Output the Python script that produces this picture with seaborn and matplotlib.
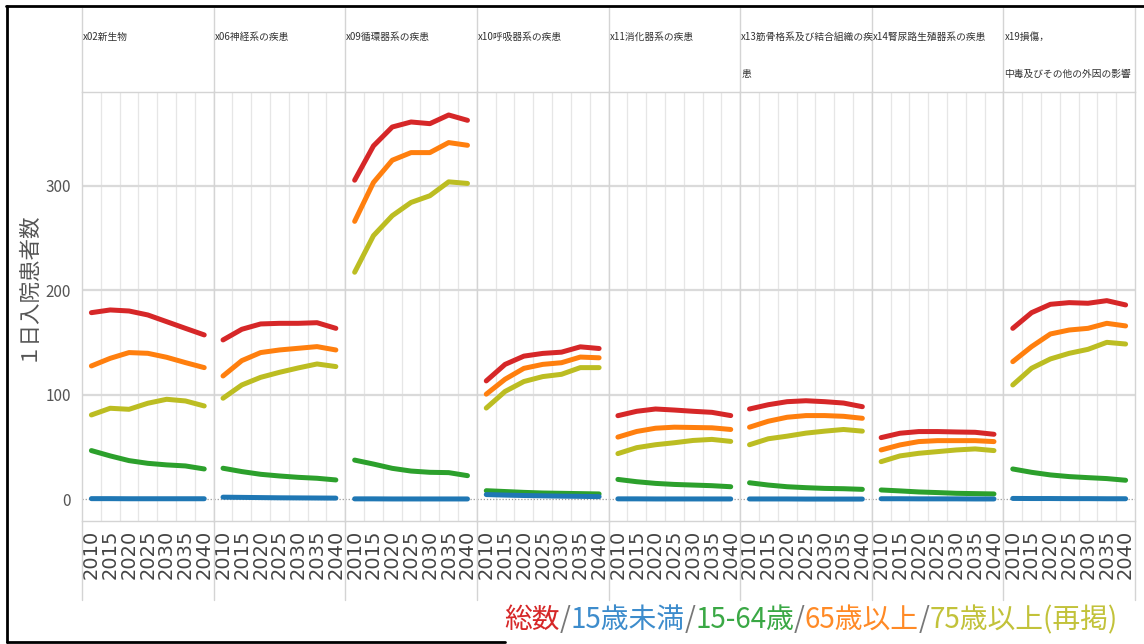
import matplotlib
matplotlib.use("Agg")
import matplotlib.pyplot as plt
from matplotlib.lines import Line2D
import numpy as np
import pandas as pd
import seaborn as sns

# data
years = [2010, 2015, 2020, 2025, 2030, 2035, 2040]
diseases = ["x02", "x06", "x09", "x10", "x11", "x13", "x14", "x19"]
titles = ["x02新生物", "x06神経系の疾患", "x09循環器系の疾患", "x10呼吸器系の疾患",
          "x11消化器系の疾患", "x13筋骨格系及び結合組織の疾\n患", "x14腎尿路生殖器系の疾患",
          "x19損傷，\n中毒及びその他の外因の影響"]
groups = ["総数", "15歳未満", "15-64歳", "65歳以上", "75歳以上(再掲)"]

total = {
    "x02": [178.6, 181.2, 180.2, 176.4, 170.0, 163.6, 157.3],
    "x06": [152.5, 162.7, 167.8, 168.4, 168.4, 169.0, 163.6],
    "x09": [305.4, 338.2, 356.3, 361.1, 359.5, 367.8, 362.7],
    "x10": [113.3, 129.1, 137.0, 139.6, 140.8, 145.9, 144.3],
    "x11": [80.0, 84.2, 86.4, 85.4, 84.2, 83.2, 80.1],
    "x13": [86.4, 90.5, 93.4, 94.3, 93.4, 92.1, 88.6],
    "x14": [59.0, 63.2, 64.8, 64.8, 64.4, 64.1, 62.2],
    "x19": [163.6, 178.6, 186.6, 188.2, 187.6, 190.1, 186.0],
}
under15 = {
    "x02": [0.6, 0.6, 0.5, 0.5, 0.5, 0.5, 0.5],
    "x06": [2.0, 1.8, 1.6, 1.4, 1.3, 1.2, 1.1],
    "x09": [0.4, 0.4, 0.3, 0.3, 0.3, 0.3, 0.3],
    "x10": [4.5, 4.0, 3.6, 3.3, 3.0, 2.8, 2.5],
    "x11": [0.4, 0.4, 0.3, 0.3, 0.3, 0.3, 0.3],
    "x13": [0.3, 0.3, 0.3, 0.2, 0.2, 0.2, 0.2],
    "x14": [0.5, 0.5, 0.4, 0.4, 0.4, 0.3, 0.3],
    "x19": [0.8, 0.7, 0.7, 0.6, 0.6, 0.5, 0.5],
}
age15_64 = {
    "x02": [46.6, 41.5, 37.0, 34.4, 32.9, 31.9, 29.0],
    "x06": [29.7, 26.5, 23.9, 22.3, 21.0, 20.1, 18.5],
    "x09": [37.5, 33.7, 29.6, 27.0, 25.8, 25.5, 22.6],
    "x10": [8.2, 7.4, 6.6, 6.0, 5.7, 5.4, 5.1],
    "x11": [19.0, 16.8, 15.2, 14.2, 13.6, 13.0, 12.0],
    "x13": [15.8, 13.6, 12.0, 11.1, 10.4, 10.1, 9.5],
    "x14": [8.9, 8.0, 7.0, 6.4, 5.7, 5.4, 5.1],
    "x19": [29.0, 25.8, 23.3, 21.7, 20.7, 19.8, 18.2],
}
over65 = {
    "x02": [127.6, 134.9, 140.4, 139.7, 135.9, 130.8, 126.0],
    "x06": [118.0, 132.7, 140.4, 142.9, 144.5, 146.1, 142.9],
    "x09": [266.0, 303.2, 324.5, 331.8, 331.8, 341.4, 338.8],
    "x10": [100.6, 114.9, 125.3, 129.1, 130.7, 136.1, 135.4],
    "x11": [59.5, 64.9, 68.0, 69.0, 68.7, 68.4, 66.8],
    "x13": [69.0, 74.7, 78.5, 80.1, 80.1, 79.4, 77.5],
    "x14": [47.2, 52.0, 55.2, 56.1, 56.1, 56.1, 55.2],
    "x19": [131.7, 146.1, 158.2, 162.0, 163.6, 168.4, 165.9],
}
over75 = {
    "x02": [80.7, 87.1, 86.1, 91.9, 95.7, 94.1, 89.3],
    "x06": [96.7, 109.4, 116.7, 121.5, 125.7, 129.5, 127.0],
    "x09": [217.3, 252.3, 271.4, 284.1, 290.5, 303.8, 302.3],
    "x10": [87.3, 103.2, 112.7, 117.4, 119.6, 126.0, 126.0],
    "x11": [43.7, 49.4, 52.2, 54.1, 56.3, 57.3, 55.4],
    "x13": [52.2, 57.9, 60.4, 63.3, 65.2, 66.8, 65.2],
    "x14": [36.0, 41.5, 44.0, 45.6, 47.2, 48.2, 46.6],
    "x19": [109.4, 125.4, 134.3, 139.7, 143.5, 150.2, 148.6],
}
yticks = [0, 100, 200, 300]

line_colors = {"総数": "#d62728", "15歳未満": "#1f77b4", "15-64歳": "#2ca02c",
               "65歳以上": "#ff7f0e", "75歳以上(再掲)": "#bcbd22"}
legend_colors = ["#d62728", "#3d8ccc", "#3aa845", "#ff8a26", "#c2c23a"]
draw_order = ["総数", "15-64歳", "65歳以上", "75歳以上(再掲)", "15歳未満"]

W, H = 1144, 644


def fx(x):
    return x / W


def fy(y):
    return 1 - y / H


# long-form table for seaborn
rows = []
for d in diseases:
    for g, src in zip(groups, [total, under15, age15_64, over65, over75]):
        for yr, v in zip(years, src[d]):
            rows.append({"disease": d, "group": g, "year": yr, "value": v})
df = pd.DataFrame(rows)

sns.set_style("white")
plt.rcParams['font.family'] = ['Noto Sans CJK JP', 'DejaVu Sans']

fig, axes = plt.subplots(1, 8, figsize=(W / 100, H / 100), dpi=100, sharey=True)
fig.subplots_adjust(left=fx(82), right=fx(1135), top=fy(92), bottom=fy(521), wspace=0)

grid_c = "#d4d4d4"
for i, (ax, d) in enumerate(zip(axes, diseases)):
    sub = df[df["disease"] == d]
    sns.lineplot(data=sub, x="year", y="value", hue="group", hue_order=draw_order,
                 palette=line_colors, linewidth=3.6, legend=False, ax=ax,
                 solid_capstyle="round", zorder=3)
    ax.set_xlim(2007.5, 2042.5)
    ax.set_ylim(-20.8, 389.8)
    ax.set_xlabel("")
    ax.set_ylabel("")
    ax.set_xticks(years)
    ax.set_xticklabels([str(y) for y in years], rotation=90, fontsize=14,
                       color="#444444", family="DejaVu Sans")
    ax.set_xticks(np.arange(2012.5, 2040, 5), minor=True)
    ax.grid(False)
    ax.grid(which="minor", axis="x", color="#e6e6e6", lw=0.9)
    ax.tick_params(axis="x", which="both", length=0, pad=6)
    for v in yticks[1:]:
        ax.axhline(v, color="#dadada", lw=1.6, zorder=1)
    ax.axhline(0, color="#999999", lw=0.9, ls=(0, (1, 1.5)), zorder=1)
    for s in ax.spines.values():
        s.set_color(grid_c)
        s.set_linewidth(1)
    if i == 0:
        ax.set_yticks(yticks)
        ax.tick_params(axis="y", length=6, width=1, color="#bbbbbb", pad=2,
                       labelsize=11, labelcolor="#555555")
    else:
        ax.tick_params(axis="y", length=0)
    # panel title in the header
    x0 = 82 + i * (1135 - 82) / 8
    fig.text(fx(x0 + 1), fy(32), titles[i], fontsize=7.0, color="#333333",
             ha="left", va="top", linespacing=4.4)

# panel separators in header and tick label area
for i in range(9):
    x0 = fx(82 + i * (1135 - 82) / 8)
    fig.add_artist(Line2D([x0, x0], [fy(8), fy(92)], color=grid_c, lw=1))
    fig.add_artist(Line2D([x0, x0], [fy(521), fy(600)], color=grid_c, lw=1))

fig.text(fx(27), fy(286), "１日入院患者数", rotation=90, fontsize=15.5, color="#555555",
         ha="center", va="center")

# coloured legend text
renderer = fig.canvas.get_renderer()
parts = []
for k, (g, c) in enumerate(zip(groups, legend_colors)):
    if k > 0:
        parts.append(("/", "#777777"))
    parts.append((g, c))
texts = [fig.text(0, fy(620), s, color=c, fontsize=20, ha="left", va="center")
         for s, c in parts]
widths = [t.get_window_extent(renderer).width for t in texts]
start = 1118 - sum(widths)
for t, w in zip(texts, widths):
    t.set_x(fx(start))
    start += w

# screenshot frame
fig.add_artist(Line2D([fx(6), fx(1144)], [fy(6), fy(6)], color="black", lw=2))
fig.add_artist(Line2D([fx(7), fx(7)], [fy(6), fy(642)], color="black", lw=2))
fig.add_artist(Line2D([fx(7), fx(505)], [fy(642), fy(642)], color="black", lw=2))

plt.savefig("out.png", dpi=100)
